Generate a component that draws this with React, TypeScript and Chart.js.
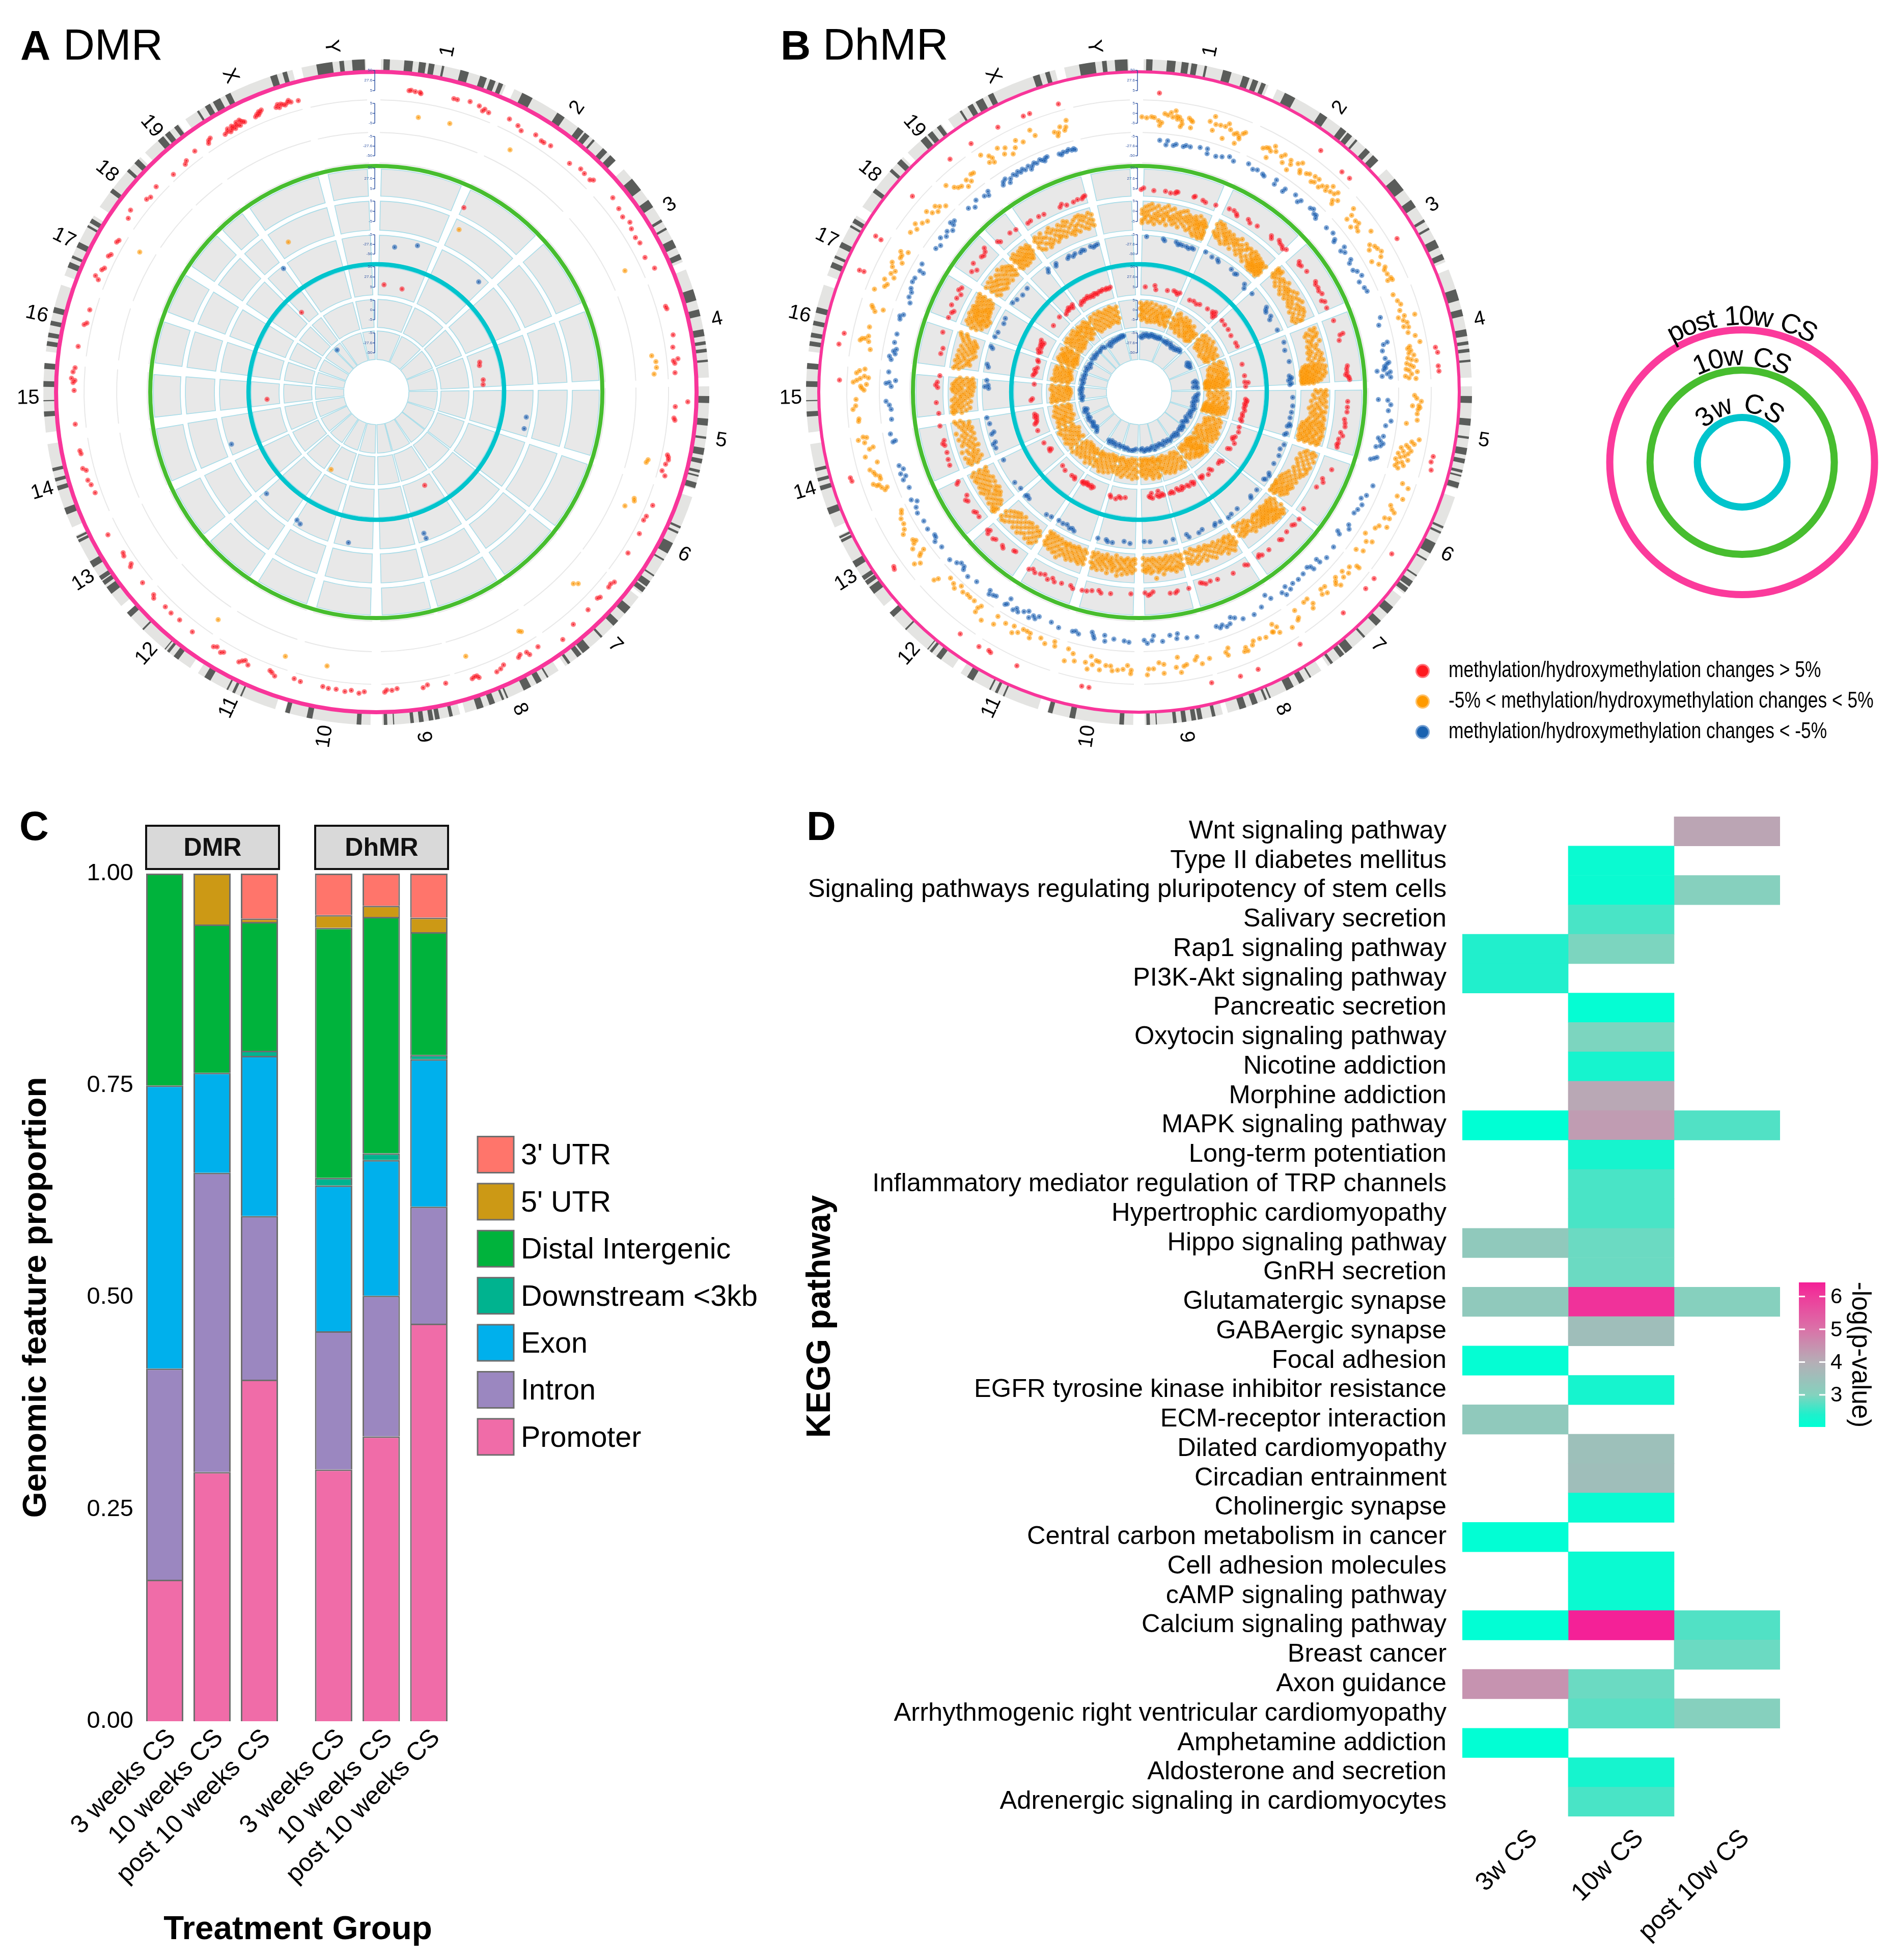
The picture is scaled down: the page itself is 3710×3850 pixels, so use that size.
import React, { useEffect, useRef } from "react";
import { Chart, registerables } from "chart.js";
Chart.register(...registerables);

const FONT = "Liberation Sans";

// ---------- Circos layout: chromosomes ----------
const chromNames = ["1","2","3","4","5","6","7","8","9","10","11","12","13","14","15","16","17","18","19","X","Y"];
const chromStart = [0.8,24.5,48,68.4,89,108.4,128,146.8,165.4,181,197.7,214,230,246,263,277,290.5,303.8,316,325,347];
const chromEnd = [22.9,46,67,87.5,107,127.3,145.4,164.5,179,196,212.4,228.5,244.5,261,275,288.8,302,314.9,323.6,345.4,358.2];
// dark ideogram bands: [centre, width] in degrees of genome position
const ideogramBands = [
[1.8,1.1],[5.6,1.5],[8,1.2],[9.6,1],[11.6,.4],[15.4,1.5],[18.8,1.2],[20.5,1],[22,.8],
[27,2],[33.7,1.5],[37.9,1.2],[39.3,1],[40.8,.4],[43.4,1],[45.3,1.3],
[51.4,2.5],[55.5,1.5],[59,.5],[60.6,.4],[63.5,1.5],[66,1],
[73,2],[76.2,1.2],[79.7,1.2],[81.5,.6],[82.8,.6],[84.6,.4],
[91.3,1.2],[95.2,1.2],[97.9,.4],[100.3,1.2],[102,.8],[103.8,.5],[104.6,.3],[106.3,1],
[114,.4],[115,.4],[118,2],[120.3,.3],[123.5,.3],[125.2,1.1],[126.5,.9],
[131,1.5],[134,1.2],[137.4,.4],[140.9,1.5],[142.4,.9],[144.6,.5],
[149,.3],[150.7,1],[153,1.4],[156.8,.3],[157.6,.4],[159.6,1],[161.8,1.2],
[167,.6],[169.4,.8],[170.5,.8],[172.2,.8],[173.8,.6],[177,.2],[178.4,.6],
[183,.8],[191.6,1],[195.5,.8],
[204,.3],[205.4,.5],[206.6,.3],[210.5,1.2],
[217,1],[218.7,.5],[219.4,.2],[224.5,.3],[228,1],
[233.4,1.4],[235,.8],[236,.8],[238.8,1.2],[243.4,.5],[244.1,.4],
[249,1.2],[253.2,.8],[254.7,.6],[256.5,.6],
[266.2,.9],[268.5,.2],[271.4,1],[274.5,1],
[278.4,.8],[279.9,.8],[282,.8],[284.3,1],
[292.5,1],[294,.5],[296.3,1],[299.9,.4],[301,.8],
[307.3,.8],[311.8,.6],[313.9,1],
[319.6,1.2],[321.1,1],[323,.8],
[327.6,.4],[329.5,1],[331.3,1.4],[333.5,1],[342,1.2],[344,.8],
[351,2.8],[354,.8],[356.9,2.2]
];
// tracks, outermost first: inner and outer radius of the band
const trackInner = [574,510,450,385,318,254,191,127,64];
const trackOuter = [632,567,502,438,375,308,246,182,120];
const sectorPad = [0,0,0,.5,.42,.35,.25,.15,.05];
const axisInner = [592,528,464,399,335,271,206,142,77];
const axisOuter = [632,567,502,440,375,309,246,180,116];
const axisLabels = [["5","27.6","50"],["-5","0","5"],["-50","-27.6","-5"]];

// ---------- Panel A (DMR): [genome angle, % of track] ----------
const dmrT1 = [[6.2,45],[6.6,47],[7.4,44],[8.3,44],[8.5,40],[14.8,46],[15.5,46],[17.9,52],[19.8,48],[21,44],[20.7,36],[21.9,38],[26,47],[28,40],[29,30],[31.8,43],[33.3,36],[33.9,36],[35.3,40],[40.2,32],[42.5,43],[43.6,40],[45.2,38],[45.7,46],
[50.6,55],[52.9,48],[54.6,42],[56.2,52],[57.4,44],[59.2,40],[60.5,44],[63.4,36],[66,50],[73.5,40],[74,42],[79.1,42],[81.4,34],[84,30],[83.7,46],[86.3,32],[84.5,34],
[91.8,74],[92.8,32],[95,30],[95.4,34],[102.6,32],[102.2,27],[103.1,34],[104,28],[105.4,22],[106.2,36],[112.3,30],[114.7,25],[115.6,22],[118.3,30],[122.6,30],
[128.6,50],[129.3,44],[130,46],[132.5,47],[133,42],[135.8,47],[139.7,50],[143,68],[147.6,40],[149.7,48],[150,36],[151.3,32],[151.8,38],[155,38],[155.8,46],[156.7,50],[160.5,38],[161.5,42],[161,38],[160.2,46],
[166.6,32],[170.1,25],[171,32],[176,25],[177,30],[178.4,35],[178,28],[182.3,34],[183.3,40],[184.8,32],[186,38],[187.7,34],[189.2,35],[190.3,32],
[194.7,32],[196,28],[200.4,32],[200.9,28],[199.7,40],[205.2,40],[206,30],[207,44],[206.5,36],[210.4,40],[210.9,46],[212,36],[212.6,42],
[217.5,42],[220.8,38],[222.9,40],[224.5,38],[227.7,38],[227.2,46],[230.8,40],[235,32],[234.6,40],[237,38],[237.6,34],[242,48],
[250.3,30],[252,34],[253,40],[254.9,36],[255.4,46],[258.2,40],[258.8,42],[263.9,44],[270.3,42],[271.8,46],[272.6,52],[273.8,48],[274.6,42],[272.2,40],
[278.7,40],[283.4,26],[283,34],[286,28],[292,34],[292.5,48],[294.5,30],[294,36],[296.9,36],[297.4,30],[300,34],[300.5,30],[305,44],[306.5,54],[310,34],[310.8,28],[313,38],
[317,26],[320,25],[320.6,32],[323,40],[326,34],[326.8,46],[326.3,42],[329.6,30],[330.2,34],[330.5,42],[330.8,28],[331.2,34],[331.4,44],[331.6,38],[331.9,30],[332.2,40],[332.5,48],[332.6,36],[333,32],[333.2,50],[333.4,44],[333.7,40],[334,36],[336.3,36],[336.7,42],[337,38],[337.2,48],[337.4,44],[337.8,50],[340.6,40],[341.2,36],[341,48],[341.6,46],[342,42],[342.4,38],[342.9,44],[343.2,50],[343.6,42],[345,40]];
const dmrT2 = [[8.7,70],[15.3,72],[28.9,66],[64,66],[82.5,70],[83.8,82],[85,82],[86.3,72],[104,78],[104.6,74],[112.4,74],[112.9,78],[114.6,55],[133.5,72],[134.2,60],[148.8,78],[149.2,72],[161.3,74],[190.2,72],[199,76],[214.8,68],[300.6,60]];
const dmrT4 = [[25.4,36]];
const dmrT5 = [[27,75],[329.6,46]];
const dmrT6 = [[7.2,65],[15.7,87],[42.9,81],[323.1,96],[99.5,87],[103.9,88],[161.4,76],[161.2,96],[190.5,91],[211.8,82],[210,88],[227.2,78],[250.2,94]];
const dmrT7 = [[4.1,40],[14,35],[316.8,46],[73.9,40],[75.6,36],[83.5,40],[86,38],[266.2,47],[152.6,31]];
const dmrT8 = [[210.3,92]];
const dmrT9 = [[317,89]];

// ---------- Panel B (DhMR): [genome angle, % of track] ----------
const dhT1 = [[3.9,33],[36.9,41],[42.6,31],[44.5,33],[59.2,33],[81.4,31],[82.4,36],[85,33],[86,34],[102.4,36],[103.5,33],[105,40],[122.7,33],[128.5,33],[131,33],[137.3,36],[147.5,31],[156.8,40],[160.4,40],[166,33],[189.6,33],[191,33],[204,33],[209.6,33],[210.1,30],[212.1,36],[216.4,36],[234,40],[234.5,36],[252.7,34],[253.4,36],[272.3,31],[279.1,45],[281.3,34],[293.6,49],[293.7,33],[300.7,53],[300.6,31],[310.9,31],[321,33],[326,33],[332,34],[337.3,31],[338.6,31],[344.4,31]];
const dhT2 = [[.6,61],[1.6,58],[2.6,62],[3.2,60],[4.4,34],[4.1,50],[4.8,44],[5.3,76],[6,72],[6.6,82],[7,67],[7.5,90],[7.8,72],[8,62],[8.4,70],[8.9,60],[9.1,48],[8.8,38],[10.4,72],[10.9,66],[11,40],[11.2,62],
[14.7,77],[15.5,98],[15.6,49],[16,72],[17,74],[18.6,88],[18,75],[19.2,70],[18.1,32],[20.2,60],[20.7,66],[21.3,58],[22.3,79],[21.5,50],[20.9,30],[21.9,72],
[26.9,55],[27.5,62],[28,65],[28.4,31],[28.6,58],[29,81],[29.6,66],[31.1,61],[31.6,72],[33.2,67],[33.6,54],[31.9,44],[33.5,31],[34.8,71],[35.5,82],[35.9,56],[36.2,48],[37.4,60],[38,66],[39.2,71],[39.8,54],[40.2,72],[39.2,48],[41.1,50],[41.6,62],[42.4,71],[43.3,86],[42.7,58],[44.5,70],[44.9,82],[43.6,66],[45.2,50],[46,62],[45.6,40],
[49.4,84],[50.2,64],[50.2,43],[52,36],[51.6,62],[52.4,66],[52.8,52],[53.6,47],[55.2,84],[57.4,54],[58.2,66],[58.9,70],[59.8,77],[58.3,43],[60.7,66],[60.7,30],[61.9,47],[63,62],[63.5,55],[65.5,64],[66,66],[65.8,50],[64.5,58],
[69,48],[70.5,55],[71.4,62],[72.6,52],[74.2,98],[73.9,62],[74,40],[74.8,54],[75.4,65],[76.1,50],[76.4,66],[77.5,60],[78.4,82],[79.8,94],[80.4,56],[80.8,48],[81.3,58],[81.8,50],[82.3,66],[82.8,44],[83.2,56],[83.5,72],[83.9,38],[84.3,50],[84.7,60],[85.1,34],[85.4,44],[85.8,72],[86.2,52],[86.6,30],[87,42],[87.2,66],
[90.7,60],[91.3,68],[91.9,84],[92.8,76],[92.9,54],[93.2,80],[93.6,74],[94.5,72],[95.8,74],[96.7,38],[99.7,90],[100.4,66],[100.8,76],[101.3,50],[101.7,60],[102,34],[102.3,70],[102.7,44],[103,62],[103.3,28],[103.6,52],[104,38],[104.3,66],[104.6,24],[105,48],[105.3,34],[105.6,56],[106,28],[106.4,40],
[109.2,72],[109.8,96],[112,70],[112.2,92],[114.3,62],[115,72],[115.4,84],[117.2,62],[116.9,78],[119.2,58],[118.7,84],[120,50],[122,30],[122.8,66],[123.4,48],[126,35],[125.4,58],
[128.7,72],[129.8,54],[128.7,82],[130.9,66],[131.5,45],[132.2,62],[133.4,42],[133.8,74],[134,52],[134.4,60],[136.4,38],[136.9,60],[137.9,52],[137.4,36],[140.6,55],[141.2,68],[141,30],[142,32],[144.6,36],[144.8,64],[145.2,70],[147,80],
[149.7,50],[150.3,34],[150.8,60],[149.7,72],[151,58],[152.7,64],[154,58],[155.4,56],[155.9,68],[157.4,66],[157.2,80],[157.9,78],[160.9,46],[161.3,70],[161.6,58],
[165.2,62],[166.9,74],[167.7,46],[168.2,56],[170.1,66],[170.7,70],[171.8,36],[172.3,70],[171.4,90],[174.8,55],[174.9,86],[175.8,48],[177,68],[178,68],[178.3,88],
[181.6,72],[181.7,84],[182.4,56],[183.3,70],[184.4,74],[185.9,62],[185.5,78],[186.9,62],[188.1,80],[189,50],[188.4,52],[190.2,38],[189.7,66],[190.6,84],[191.2,62],
[193.5,66],[194.1,42],[195.3,30],[195.5,74],[198.3,35],[198.6,20],[200.5,38],[201.7,25],[204.2,24],[204,40],[205,22],[205.9,22],[208,26],[206.7,40],[207.8,50],[209.9,32],[212.1,25],[212,56],
[216.3,28],[214.6,68],[216.7,40],[216.6,56],[218.2,28],[219.4,28],[220.2,26],[221.3,30],[223.2,40],[222.4,18],[224,30],[225.3,24],[227,56],[227.4,70],
[231.9,68],[232.5,86],[233.5,46],[233.8,30],[233.2,54],[236.3,34],[235.2,60],[236,46],[236.8,42],[239.6,48],[238.8,60],[240.7,40],[241.9,40],[242.9,30],[243.5,25],
[248.9,48],[249.6,56],[250.3,70],[250.8,80],[249.3,38],[250.3,62],[251.4,50],[252.5,62],[253.1,66],[252,50],[253.8,76],[255,44],[256.6,80],[258.3,46],[258,60],[259.5,72],[260.7,74],[260.5,62],[260.2,92],
[264,82],[264.5,80],[266.5,98],[267.2,88],[268.5,86],[272,96],[271.2,70],[272.8,72],[273.3,58],[273.9,86],[270.8,66],[271.6,50],[272.4,84],[273,44],[274.4,76],[274.8,58],[270.4,58],
[281.7,62],[281,82],[280.6,88],[281.1,72],[280.6,58],[279,48],[283.6,66],[287.8,36],[287,62],[287.6,72],[288,78],
[291.3,89],[292.6,60],[293.2,54],[294,70],[295,42],[295.6,58],[296.4,48],[297,64],[297.8,72],[298.6,40],[299.4,54],[300,54],[300.6,64],[301.2,40],
[305,72],[306.3,60],[307,76],[308,58],[309,48],[310.4,72],[311,54],[312,42],[312.4,62],[313,50],[314,36],
[317,86],[318,62],[318.6,52],[319.3,48],[320.4,32],[320.9,54],[321.6,40],[322.4,60],[323,58],
[326.3,94],[327,56],[327.6,76],[328,64],[327.9,48],[329.9,84],[331.3,72],[330.6,54],[332.2,40],[333.9,78],[333.2,56],[335.2,62],[337.4,90],[338,66],[342.5,38],[342,54],[342.8,48],[343.4,66],[344.2,50],[344.6,60],[345,82]];
const dhT3 = [[4.7,96],[6.2,81],[6.5,97],[7.9,82],[8.5,88],[10.2,84],[10.8,90],[11.8,88],[14,94],[15.7,96],[15.9,78],[18,78],[19.4,84],[21,94],[22.2,84],
[25.6,98],[27,86],[28,92],[29.5,88],[30,84],[32.9,96],[33,78],[35.7,86],[35.5,73],[38.4,92],[39.7,76],[40.2,88],[42.9,90],[43.6,96],[44.4,84],[45,86],[45.4,76],
[48.7,82],[50.6,88],[52,78],[52.3,70],[54.7,90],[55.8,80],[55,70],[57.9,84],[58.5,72],[60.3,70],[61,82],[62.3,90],[63.4,70],[65.1,78],[66.1,82],
[72.8,94],[74.4,80],[78.6,96],[79,80],[80.4,72],[82.2,78],[83.2,90],[83.5,82],[84,72],[84.4,76],[85.4,92],[85,42],[86.3,60],[86.6,92],[85.8,80],[84.8,68],
[91.8,44],[91.9,80],[92.9,92],[94.3,84],[96.6,98],[97.8,80],[100.3,78],[100.9,60],[101.5,70],[102,82],[102.6,74],[103,58],[106.2,50],[105.4,72],[105.8,62],
[111.9,92],[114.5,84],[115.6,70],[116.9,84],[118.3,78],[119.4,72],[122.4,78],[123.2,88],[125,56],[125.4,68],[128.6,80],
[131.5,86],[133.3,78],[133.4,62],[136.3,58],[135.4,80],[135.6,66],[138,66],[139.7,70],[141.3,68],[142.5,80],[144.6,72],[144,88],[143.2,60],
[147.5,66],[148.3,44],[150.4,76],[152.7,88],[155.4,84],[157.1,68],[158,60],[158.6,82],[160.4,76],[161.8,74],[159.5,88],[161,84],
[166.7,92],[169,88],[171,66],[171.3,84],[172.8,68],[174.6,88],[177,82],[178.1,92],[176.6,64],[178.8,80],
[182.3,88],[183.4,84],[185.8,80],[187.8,92],[188,70],[190.3,88],[190.6,78],[191,66],[194,84],[194.8,76],[195.5,80],[198.8,82],[200.8,72],
[203.9,70],[204.6,84],[205.2,76],[206,90],[206.6,68],[207.6,78],[208.8,90],[209.4,80],[210,92],[211.8,84],[211.7,60],[212.2,90],
[214.9,82],[215.6,86],[216.8,78],[216.5,92],[220.5,84],[222.8,92],[224.6,84],[225,74],[226.8,84],[228.4,96],[226,72],
[231.8,88],[233.7,96],[234.4,84],[235,82],[237,92],[239,88],[241.3,94],[242.6,88],[243.8,74],[244.6,92],
[247.4,80],[249.5,90],[250.2,76],[251,92],[251.9,76],[252.9,88],[258.7,78],[258.5,88],[260.4,92],
[263.7,80],[266,78],[267,84],[267.9,96],[271.3,76],[272.2,84],[272.7,60],[272,96],[274.6,88],
[277.5,84],[278.2,92],[278.9,72],[279.5,80],[280,70],[281.5,82],[283.5,80],[287,84],[288.2,76],[287.7,88],
[291.3,68],[292.5,80],[293.7,78],[294.5,86],[296,92],[297,90],[298.9,70],[299,86],[300.6,92],
[305.3,80],[306.5,72],[307.9,90],[309,76],[310,86],[311,72],[312.1,84],[312.9,92],[312,98],
[317.2,88],[318.5,74],[319.7,92],[321.8,84],[322.7,76],[323.1,90],
[326.8,76],[327.2,86],[327.9,92],[328.5,70],[329,82],[330,90],[330.6,82],[331.2,92],[331.8,84],[332.4,92],[333,84],[333.9,92],[334.3,76],[334.8,86],[335.4,94],[336,88],[336.9,96],[337.4,90],[337.9,84],[338.2,94],[338.7,96],[341.5,90],[342,84],[342.5,92],[343.3,90],[343.8,96],[344.5,90],[345,94],[345.3,88]];
const dhT4 = [[.6,30],[1.3,36],[4.2,28],[7.5,30],[9,26],[10.3,28],[10.6,34],[11,34],[15.7,30],[16,34],[18.4,28],[19.3,24],[22.3,28],
[26.2,36],[27.6,38],[28.6,32],[29,26],[32.3,36],[33.2,28],[35.4,34],[40.2,38],[40.7,30],[42.7,44],[43.4,38],[44.3,36],[45,30],[45.9,38],
[50.8,44],[51.4,36],[52.1,40],[54.2,44],[57.9,50],[58.6,44],[59.7,46],[60.6,42],[61.7,48],[64,44],[63.4,34],[65.8,40],
[69.8,46],[74.1,52],[73.9,64],[75.5,44],[82.8,56],[83.6,52],[84.5,52],[85.2,46],[86,58],[86.6,60],[85.6,54],
[92.6,52],[94.2,52],[95.5,52],[97.6,46],[98.6,50],[99.6,52],[101.4,40],[102.2,50],[103.3,38],[104.4,40],[105.6,40],[104.9,36],
[112,48],[115.3,30],[116.2,38],[118.2,24],[125.4,26],
[128.5,36],[130.5,36],[131.1,30],[133.5,32],[136,40],[136.5,34],[140.6,36],[143,36],[143.7,28],[144.2,34],
[147.9,36],[148.6,30],[152.6,36],[157.3,32],[159.4,28],[160.8,32],[161.6,26],[162.2,22],
[165.8,30],[169.1,30],[169.7,36],[171.2,34],[176,22],[177.4,34],[178.3,24],[176.8,30],
[182.3,28],[188,34],[190.7,38],[191.4,30],[193.3,36],[194.7,42],[196,44],
[198.6,48],[199.4,40],[202,44],[204,50],[204.8,40],[207.2,40],[206,52],[208.4,46],[209.9,52],[211.8,52],[210.8,44],
[217.6,26],[218.2,28],[221,46],[221.6,40],[224.1,40],[224.8,46],[226.8,46],[227,32],[227.6,38],
[232,30],[233.4,28],[234,34],[237.4,30],[238,36],[239,22],[243.6,26],[243.1,34],
[248.8,30],[250.5,28],[252.5,24],[254.6,24],[255.2,30],[256,22],[260.3,26],
[263.9,24],[271.3,24],[272.8,26],[274.7,18],[272,32],[267,30],
[281,26],[282.6,22],[287,38],
[291.4,36],[293,32],[293.6,26],[295,44],[297.3,38],[298.7,30],[300.5,40],[299.6,46],
[305.8,42],[307,30],[307.9,56],[310.7,48],[311.4,44],[312.4,50],[313,62],
[316.8,44],[317.4,36],[321,38],[322.9,34],
[326.7,28],[327.7,30],[330.3,28],[331.9,26],[336.9,24],[337.6,32],[338.9,22],[341,24],[342.3,28],[343.6,26],[344.1,32],[344.6,34]];
const dhT6 = [[2.8,100],[9,98],[9.6,92],[13.9,96],[14.8,88],[15.4,92],[16.5,90],[18,90],[19,86],[20,92],[20.8,90],
[25.4,98],[28.3,92],[30.6,94],[31.3,88],[36.9,92],[38.9,86],[39.6,90],[44.3,82],[45.3,70],[48.9,78],[56.3,90],[57,82],[57.8,78],[60,86],[61,76],[65.8,84],
[71,90],[74,84],[78.5,90],[83.9,82],[84.6,90],[85,86],[85.6,78],[86.7,88],[87.2,82],
[92,92],[95.2,94],[97.6,92],[99.7,90],[102,92],[102.6,96],[103,86],[105.7,90],[106.3,84],
[110,94],[112,86],[114.5,92],[118,88],[122,90],[122.8,96],[124.6,92],[125,86],
[129.8,90],[133,88],[133.5,94],[140,88],[143,90],[144.6,94],[148,90],[150,86],[150.5,92],[155.4,84],[157,90],[161,92],[161.6,80],
[167,84],[170,88],[175.8,80],[178,78],[183.4,86],[185.7,80],[190,90],[191.8,90],[192.5,84],[195.7,86],
[205,92],[206,86],[207,90],[208.4,82],[210,86],[211.9,84],[215,88],[217,92],[225.8,90],[227,86],[227.5,92],
[230.8,88],[233.9,92],[243.3,84],[248.6,92],[250.2,96],[250.8,86],[254,90],[254.6,80],[258,88],[260.4,94],
[274.4,88],[272,94],[272.6,82],[271.4,80],[279.4,88],[280.4,94],[287.2,96],[286.6,88],
[291,94],[293,90],[296.9,84],[298.9,88],[305.3,96],[307.2,90],[309.9,84],[312.9,88],
[323,80],[323.6,90],[326.7,82],[327.2,90],[332,84],[332.8,90],[334.2,82],[335.2,88],[337.3,84],[338.2,90],[339,86],[341.6,92],[342.6,86],[343.4,90],[344.3,92]];
const dhT7 = [[3.4,32],[8.5,40],[9.3,26],[15.6,32],[19,38],[21.3,30],[22.4,38],[20.4,36],
[28.8,30],[31,34],[33,30],[34.7,36],[39.4,40],[42.4,44],[43.2,38],[44.8,40],[44.4,30],[43.8,50],
[49.2,46],[51.8,44],[54.9,44],[58.4,40],[63,42],[65,42],[74.9,36],[81.2,36],[84.6,34],[85,46],[87,36],
[93.9,36],[94.6,42],[95.4,40],[96.4,34],[97.2,38],[98.5,34],[100,38],[101.9,32],[103.2,34],[105,30],[105.8,36],
[109.4,34],[112,38],[115,34],[116,26],[116.8,30],[118.4,42],[122.6,30],[122,38],
[129.8,42],[130.6,34],[132,36],[137.1,36],[137.8,28],[140,40],[143.8,36],[143,30],[144.4,30],
[148.8,32],[150,28],[149.4,38],[152,36],[152.8,30],[155,32],[155.8,26],[156.4,36],[158,34],[158.8,26],[161.2,36],[162,30],[163,34],
[166.6,34],[167.4,28],[168.2,34],[169.2,36],[169.2,16],[170.2,30],[172.7,38],[173.1,20],[173.9,34],[174.5,30],
[187.4,36],[189.8,40],[190.8,36],[192.3,46],[195,44],[195.6,38],
[205.6,32],[206.4,38],[207,30],[208.2,34],[209,34],[209.6,28],[210.4,32],[211,38],[211.8,32],[212.2,36],
[216.5,42],[217,36],[218.8,38],[223.3,40],[226,34],
[236.5,36],[237,28],[237.6,34],[241.8,40],[249.1,42],[252.8,44],[253.4,38],[254.2,34],[255.6,32],[256.4,38],[257,30],[258,36],
[265.6,42],[266.4,36],[274.3,30],[280,34],[279,38],[281,30],[282.2,36],[283.4,28],[287.5,34],[286.8,30],
[291.5,40],[292.2,34],[293,46],[294.4,38],[295.2,44],[296,38],[296.6,46],[297.2,36],[298,50],
[307.9,42],[313.4,46],[317,36],[318.5,42],[319.4,40],[320,48],[321,44],[322,38],[322.7,48],
[326.5,30],[327.6,38],[328.6,34],[329.6,40],[330.8,38],[331.6,44],[332.6,36],[333.6,40],[334.5,34],[335.4,42],[336.4,40],[337,36],[338.4,42],[339.4,40],[340.4,44],[341.9,40],[342.6,44],[343.6,40],[344.7,44]];
const dhT9 = [[1.5,82],[3.1,78],[4.2,90],[6,84],[7.2,92],[8.4,88],[10,84],[11.2,90],[12.2,94],[13.6,88],[15,92],[16.4,86],[18,90],[19.4,86],[20.6,92],[22,88],
[25.6,86],[27.4,84],[29,90],[30.2,82],[32.8,90],[34.2,84],[35.8,78],[37.2,86],[39.4,80],[40.8,88],[42,84],[43.5,92],[45.3,88],
[58.7,84],[60,90],[61,78],[62,88],[62.8,82],[64.4,86],[79,88],[80,80],[81,92],[84,88],[85,78],[85.8,92],
[92,94],[93.6,86],[95,90],[96.4,80],[98.3,92],[99.5,84],[101,78],[103,86],[105,80],[106.4,90],[108.8,86],[110.4,78],[112.2,84],[114,76],[115.6,86],
[118,72],[120,78],[121.4,84],[123,76],[124.6,70],[127,80],[128.6,84],[130,76],[131.6,86],[133.2,78],[136.5,82],[138,90],[139.4,78],[141,86],[142.6,80],[145,84],
[147.6,90],[149.4,82],[151.6,88],[153.6,80],[155.4,92],[157.4,86],[159,82],[161,90],[162.8,84],[164.6,96],
[166.8,84],[168.4,90],[170,94],[171.7,88],[173.4,92],[175,96],[176.8,86],[178.4,90],
[183,88],[185,92],[187,94],[190,94],[192,88],[194,92],[196,86],[198.8,90],[200.6,84],[203.4,92],[205.2,84],[207,90],[208.8,82],[210.4,92],[212,86],
[226.9,90],[228.4,84],[230.6,78],[232,84],[233.5,88],[235,82],[236.6,78],[238,84],[241,88],[242.4,80],[243.8,86],[247,82],[250,90],[251,84],[252,78],[253,86],
[262,88],[264,90],[265.6,84],[268,92],[270,88],[272,94],[273.4,86],[275,90],
[278,88],[280,84],[282,92],[284,84],[286.2,90],[288,84],[291,88],[293.7,84],[295,90],[297,78],[299,86],[301,82],
[305,88],[307.6,82],[309,90],[311,84],[313,88],[316,84],[318,88],[320.8,90],[322.6,84],
[327,84],[328.6,76],[330,88],[332,82],[333.6,90],[335.4,84],[337,90],[338.6,86],[340,92],[341.4,88],[342.6,94],[343.8,90],[344.8,92]];
// dense tracks: one row per genome angle followed by the values seen there
const dhT5rows = [
[1,62,40,75,30],[2,45,68,85,54],[3,33,58,90,72],[4,50,78,38,96],[5,62,28,84,47],[6,70,42,92,56],[7,35,60,80],[8,52,88,44,68],[9,74,30,62,96],[10,48,84,58],[11,66,36,90,52],[12,42,76,60],[13,55,30,82,70],[14,88,46,64],[15,38,72,58,92],[16,28,54,80,66],[17,74,44,34,60],[18,24,52,82,68],[18.7,40,72,16,58],[19.4,30,62,88,48],[20,20,44,70,56],[20.7,34,14,64,80],[21.4,26,48,72,58],[22,18,40,62,30],
[25,56,84],[25.7,72,96,48],[26.4,60,88,42],[27,50,76,94],[27.8,38,66,84],[28.6,58,30,72],[29.4,46,80,60],[30,52,70,36],[31,62,44,78],[32,54,30,68],[33,72,48,60],[34,36,58,82],[35,26,64,46],[36,52,76,38],[37,30,60,68],[38,42,20,72],[39,56,34,66],[39.8,28,48,74],[40.5,16,44,62,30],[41,52,24,70,38],[41.6,12,36,58,28],[42.2,46,20,66,32],[42.8,14,54,28,40],[43.4,38,62,22,50],[44,18,44,30,58],[44.6,28,50,12,38],[45.3,22,60,34],
[48.5,78,88,62],[49.2,70,84,54],[50,60,80,90],[51,48,68],[52,62,76,40],[53,52,74],[54,44,64,84],[55,58,70,36],[56,48,72,62],[57,40,80,58],[58,66,88,50],[59,44,60,76],[60,54,82,38],[61,68,44,88],[62,56,32,72],[63,42,66,80],[64,34,58,78],[65,46,28,70],[66,36,60,52],
[70,72,88],[70.8,56,80],[71.6,64,90,48],[72.4,74,84],[73.2,52,68],[74,60,92],[75,62,46,78],[76,50,72],[77,56,80,42],[78,70,88,48],[79,62,40,82],[80,50,76,90],[81,26,58,40,70],[81.5,34,16,82,54],[82,22,46,66,94],[82.5,12,30,52,76],[83,8,26,40,62,88],[83.5,18,34,56,72],[84,6,24,44,64,92],[84.5,14,30,50,78],[85,8,22,38,58,84],[85.5,12,28,46,68],[86,6,20,36,52,74],[86.5,10,26,42,62],[87,8,18,32,48],
[89.5,72,90,54],[90.2,62,84],[91,78,46,92],[92,68,52,84],[93,40,72,90],[93.8,58,80],[94.6,66,44,92],[95.4,72,34,56],[96.2,80,50,90],[97,60,76,42],[97.8,86,52,70],[98.6,40,64,90],[99.4,58,78,34],[100,30,50,88,70],[100.6,18,42,62,84],[101.2,26,48,74,94],[101.8,14,36,56,82],[102.4,22,44,66,90],[103,12,34,52,76],[103.6,28,48,70,94],[104.2,16,38,60,86],[104.8,24,44,66,90],[105.4,14,34,54,78],[106,28,48,70,88],[106.6,20,40,62,82],
[109.4,82,60],[110,74,92,52],[111,62,84,40],[112,70,94,48],[113,58,80,36],[114,66,90,44],[115,50,74,84],[116,38,60,86],[117,68,46,80],[118,30,54,72],[119,42,62,24],[120,52,34,70,16],[121,26,44,60,12],[122,34,18,52,68],[122.8,8,28,48,62],[123.6,18,38,56,10],[124.4,12,30,46,64],[125.2,24,8,40,56],[126,14,30,48],[126.8,10,26],
[128.5,40,70],[129.2,52,86,28],[130,62,36,80,96],[130.6,44,70,24,90],[131.2,54,30,84,66],[131.8,40,76,94,58],[132.4,28,62,48,84],[133,52,74,36,90],[133.6,22,60,42,82],[134.2,68,30,50,88],[134.8,38,72,56],[135.4,60,26,80,46],[136,34,68,52],[136.6,58,30,76],[137.2,44,66,24],[138,52,30,70],[139,62,36,46],[140,28,56,72],[141,42,18,60,34],[142,54,22,40],[143,34,58,14,46],[144,20,44,60],[145,30,12,50],
[147.2,44,62],[148,52,30,70],[148.8,62,36,84,48],[149.6,26,56,76],[150.4,44,68,30],[151,60,82,38],[152,48,28,66],[153,70,36,54],[154,42,62,24],[155,54,76,32],[156,28,46,68],[157,60,38,22],[158,50,72,30],[159,34,58,20],[160,46,66,28],[161,24,52,72],[162,38,16,60],[163,28,50,64],[164,44,22,58],
[165.8,40,62,26],[166.6,54,30,72],[167.4,22,46,64],[168.2,60,34,78],[169,44,24,68],[169.8,56,32,70],[170.6,40,20,62],[171.4,66,48,28],[172.2,34,56,80],[173,24,46,62],[173.8,58,36,70],[174.6,28,50,92],[175.4,40,66,22],[176.2,54,30,72],[177,46,24,60],[177.8,32,56,68],[178.6,20,44,62],
[181.4,38,60,24],[182.2,50,26,70],[183,34,62,44],[183.8,22,52,74],[184.6,40,64,28],[185.4,56,32,78],[186.2,24,46,60],[187,68,38,84],[187.8,30,54,16],[188.6,44,70,60],[189.4,26,50,36],[190.2,64,40,80],[191,30,56,18],[191.8,48,72,34],[192.6,24,60,42],[193.4,52,34,76],[194.2,20,44,66],[195,58,30,74],[195.8,38,22,56],
[198,30,52,70],[198.8,22,44,62],[199.6,34,56,74],[200.4,26,48,68],[201.2,38,60,20],[202,50,28,72],[202.8,42,64,24],[203.6,30,54,76],[204.4,22,46,66],[205.2,36,60,28],[206,50,24,72],[206.8,32,56,84],[207.6,44,20,68],[208.4,28,52,74],[209.2,38,18,62],[210,48,26,70],[210.8,34,16,58],[211.6,24,44,64],[212.2,16,36,54],
[214.6,48,72],[215.4,58,36,84],[216.2,42,68,90],[217,30,54,78],[218,62,40,86],[219,48,74,30],[220,56,34,80],[221,42,66,88],[222,28,52,74],[223,60,38,84],[224,46,70,30],[225,54,78,36],[226,42,64,88],[227,50,72,92],[228,62,84],
[230.4,78,92],[231,60,84,96],[231.8,70,50,88],[232.6,58,80],[233.4,42,66,90],[234.2,74,52,34],[235,60,84,42],[235.8,46,72,28],[236.6,64,84,36],[237.4,50,72,92],[238.2,30,58,78],[239,66,44,86],[239.8,52,74,28],[240.6,38,60,84],[241.4,70,48,88],[242.2,56,78,36],[243,44,66,90],[243.8,58,80,34],
[246.6,52,74],[247.4,42,64,82],[248.2,30,56,76],[249,60,44,86],[250,36,68,52],[251,72,48,90],[252,28,58,40],[253,64,82,46],[254,34,54,74],[255,66,44,88],[256,56,74,32],[257,40,62,92],[258,68,50,34],[259,44,76,60],[260,60,84,40],[260.7,70,90],
[263.4,60,88],[264,78,44,92],[264.7,62,30,84],[265.4,52,72,92],[266.1,38,66,84],[266.8,56,26,76],[267.5,46,68,90],[268.2,34,58,80],[268.9,22,62,44],[269.6,52,76,30],[270.3,40,18,66,86],[271,56,28,74,90],[271.7,34,14,62,82],[272.4,48,24,70,88],[273.1,36,60,16,80],[273.8,52,28,74],[274.5,40,64,20],
[277.5,72,90],[278.2,60,84],[279,50,76,36],[279.8,68,88,44],[280.6,56,40,78],[281.4,30,62,84],[282.2,48,70,22],[283,58,36,82],[283.8,44,68,28],[284.6,52,78,34],[285.4,40,62,24],[286.2,50,74,30],[287,58,38,80],[287.8,88,66],[288.5,92,70],
[291,46,64],[291.8,30,56,78],[292.6,68,42,88],[293.2,20,52,74,34],[293.8,44,62,16,84],[294.4,28,56,72,40],[295,66,36,90,12],[295.6,22,50,76,60],[296.2,42,68,30,86],[296.8,54,24,78,64],[297.4,34,70,48,88],[298,58,26,80,42],[298.6,46,72,30],[299.2,62,38,84],[299.8,52,74,28],[300.4,42,66,88],[301,56,34,78],[301.6,70,48,90],
[304.4,38,60,84],[305.2,52,72,28],[306,44,66,88],[306.8,58,36,78],[307.6,30,54,70,90],[308.4,46,68,24],[309.2,60,36,82],[310,50,74,32],[310.8,42,64,90],[311.6,56,28,78],[312.4,66,44,84],[313.2,36,58,76],[314,52,70,30],[314.6,44,62],
[316.4,40,66,82],[317,54,30,72],[317.6,62,44,88],[318.2,34,56,78],[318.8,50,70,28],[319.4,60,42,84],[320,30,54,74],[320.6,64,46,88],[321.2,38,58,80],[321.8,52,72,34],[322.4,44,66,84],[323,56,74],
[325.4,52,78],[326,40,66,88],[327,62,34,80],[328,50,72,90],[329,44,68,30],[330,56,82,38],[331,46,74,92],[332,60,34,80],[333,52,72,42],[334,66,86,46],[335,38,58,78],[336,50,74,90],[337,62,40,84],[338,46,70,32],[339,58,80,44],[340,36,62,88],[341,52,74,90],[342,42,68,84],[343,56,78,36],[344,48,66,88],[345,60,80,42]
];
const dhT8rows = [
[1,70,44,90],[2,52,30,78,64],[3.5,84,40,62],[5,34,72,52,92],[6.5,60,24,82],[8,46,68,92,34],[9.5,74,54,26],[11,40,62,88],[12.5,28,70,50],[14,58,84,36,46],[15.5,66,32,78],[17,48,24,60,88],[18.5,70,40,54],[20,30,80,58],[21.5,62,42,74,24],
[25,40,62],[26.5,54,28,80],[28,66,40,88],[29.5,30,58,76,46],[31,48,70,20],[32.5,64,36,84],[34,26,54,72],[35.5,44,62,18,82],[37,34,58,70],[38.5,24,48,64,40],[40,56,30,76],[41.5,18,44,60],[43,36,22,52],[44.5,28,46,60],
[48.5,74,52],[50,60,82,38],[51.5,46,70,26],[53,62,36,84],[54.5,28,52,72],[56,42,64,90],[57.5,30,58,78],[59,50,70,22],[60.5,38,62,84],[62,28,54,74],[63.5,46,66,36],[65,58,30,78],[66.2,40,62],
[69.5,56,78],[71,40,66,86],[72.5,52,30,74],[74,62,44,84],[75.5,28,54,72,92],[77,40,64,24,80],[78.5,34,56,76,92],[80,22,48,66,84],[81,14,36,58,78],[82,24,44,70,12],[83,8,30,52,92,74],[84,18,40,60,84],[85,10,26,46,68,88],[86,14,34,54,76],[87,8,22,42,64],
[89.5,20,48,70],[91,32,60,84],[92.5,18,44,72],[94,36,56,88],[95.5,24,50,74],[97,40,64,84],[98.5,16,38,58,80],[100,10,28,48,70,90],[101,16,36,58,78],[102,8,26,44,66,86],[103,14,34,54,74],[104,8,24,42,62,84],[105,12,30,50,72],[106,6,22,40,60],
[109,72,50],[110.5,58,36,82],[112,44,70,24],[113.5,62,34,84],[115,50,72,28],[116.5,38,60,80],[118,26,52,70,90],[119.5,14,44,62,82],[121,28,52,72,92],[122.5,12,36,60,80],[124,20,44,66,86],[125.5,30,54,74],[126.8,16,40,62],
[128.5,52,78,34],[130,62,28,84],[131,40,70,18,92],[132,52,24,76,62],[133,14,44,66,86],[134,30,56,80,20],[135,10,40,62,86],[136,24,52,76,44],[137,34,66,16,84],[138,46,72,28],[139.5,56,22,76],[141,36,62,14],[142.5,50,26,70],[144,32,58,18],
[147.2,48,72],[148.5,30,60,84],[150,46,20,74],[151.5,56,32,82],[153,40,66,16],[154.5,26,52,76],[156,62,36,84],[157.5,46,22,70],[159,30,56,80],[160.5,42,68,14],[162,54,28,74],[163.5,36,60,18],[164.5,48,24],
[165.8,52,22,78],[167,38,66,84],[168.2,28,54,12],[169.4,44,72,24],[170.6,60,16,84],[171.8,34,50,72],[173,22,58,14],[174.2,44,68,30],[175.4,12,52,80],[176.6,36,64,18],[177.8,26,48,70],[178.8,58,12,36],
[181.5,30,56,78],[183,14,44,68],[184.5,52,24,82],[186,36,66,12],[187.5,48,76,26],[189,18,58,38],[190.5,70,30,46],[192,22,54,80],[193.5,40,64,14],[195,28,50,74],[196,60,18],
[198,48,70,26],[199.5,34,60,16],[201,52,78,24],[202.5,40,66,14],[204,30,56,84],[205.5,46,72,20],[207,62,34,88],[208.5,24,52,76],[210,42,66,30],[211.5,56,22,80],[212.4,34,64],
[214.5,56,80,34],[216,42,70,24],[217.5,62,88,36],[219,50,74,28],[220.5,40,68,22],[222,58,82,30],[223.5,46,72,20],[225,60,36,84],[226.5,28,54,76],[228,66,42,90],
[230.5,60,84],[232,44,72,24],[233.5,58,82,34],[235,40,66,90],[236.5,52,28,76],[238,38,62,84],[239.5,20,48,74],[241,56,32,86],[242.5,44,68,92],[244,60,34,80],
[246.4,40,62,84],[248,52,28,74],[249.5,34,58,80],[251,44,18,70,60],[252.5,26,50,78],[254,38,62,86],[255.5,22,46,72],[257,56,30,80],[258.5,40,66,20],[260,50,28,74],
[263.4,66,40,84],[264.5,52,24,72],[265.8,36,62,84],[267,46,18,74],[268.2,28,56,80],[269.4,40,66,14],[270.6,52,26,78],[271.8,34,60,16,86],[273,44,22,70],[274.2,56,30,82],
[277.4,48,72,26],[278.6,60,34,84],[279.8,22,50,74],[281,40,64,16],[282.2,54,30,78],[283.4,66,42,20],[284.6,28,56,80],[285.8,44,70,32],[287,54,24,78],[288.3,36,62],
[290.8,42,68,20],[292,54,30,78],[293.2,24,62,46,84],[294.4,36,70,14,54],[295.6,50,26,80,66],[296.8,34,60,18,74],[298,46,70,28],[299.2,58,22,84],[300.4,38,66,50],[301.6,26,54,74],
[304.2,36,64,86],[305.4,52,24,76],[306.6,40,68,90],[307.8,58,30,80],[309,46,72,22],[310.2,60,36,88],[311.4,28,54,76],[312.6,44,70,92],[313.8,32,60,80],[314.8,50,74],
[316.4,44,70,88],[317.6,30,58,76],[318.8,50,24,84],[320,62,38,74],[321.2,46,68,90],[322.4,34,58,82],[323.4,50,72],
[325.5,48,78],[327,36,62,88],[328.5,52,74,26],[330,42,66,92],[331.5,58,30,82],[333,46,70,92],[334.5,36,62,84],[336,52,76,28],[337.5,42,68,88],[339,58,34,80],[340.5,46,72,92],[342,36,60,84],[343.5,54,76,30],[345,44,66,86]
];

// ---------- Panel C ----------
const featureNames = ["Promoter","Intron","Exon","Downstream <3kb","Distal Intergenic","5' UTR","3' UTR"];
const featureColors = ["#F06CA8","#9B87C0","#00B0EC","#00B38F","#00B33C","#CC9915","#FF756B"];
const groupLabels = ["3 weeks CS","10 weeks CS","post 10 weeks CS"];
const dmrPromoter = [.167,.294,.403], dmrIntron = [.249,.353,.193], dmrExon = [.334,.118,.189], dmrDownstream = [0,0,.006], dmrDistal = [.25,.175,.152], dmr5utr = [0,.06,.004], dmr3utr = [0,0,.053];
const dhPromoter = [.297,.336,.469], dhIntron = [.163,.166,.138], dhExon = [.172,.16,.174], dhDownstream = [.009,.008,.005], dhDistal = [.295,.279,.145], dh5utr = [.015,.013,.017], dh3utr = [.049,.038,.052];

// ---------- Panel D ----------
const pathways = ["Wnt signaling pathway","Type II diabetes mellitus","Signaling pathways regulating pluripotency of stem cells","Salivary secretion","Rap1 signaling pathway","PI3K-Akt signaling pathway","Pancreatic secretion","Oxytocin signaling pathway","Nicotine addiction","Morphine addiction","MAPK signaling pathway","Long-term potentiation","Inflammatory mediator regulation of TRP channels","Hypertrophic cardiomyopathy","Hippo signaling pathway","GnRH secretion","Glutamatergic synapse","GABAergic synapse","Focal adhesion","EGFR tyrosine kinase inhibitor resistance","ECM-receptor interaction","Dilated cardiomyopathy","Circadian entrainment","Cholinergic synapse","Central carbon metabolism in cancer","Cell adhesion molecules","cAMP signaling pathway","Calcium signaling pathway","Breast cancer","Axon guidance","Arrhythmogenic right ventricular cardiomyopathy","Amphetamine addiction","Aldosterone and secretion","Adrenergic signaling in cardiomyocytes"];
const n = null;
const col3w = [n,n,n,n,2.42,2.42,n,n,n,n,2.02,n,n,n,3.25,n,3.25,n,2.08,n,3.25,n,n,n,2.04,n,n,2.04,n,4.45,n,2.04,n,n];
const col10w = [n,2.15,2.15,2.65,2.95,n,2.08,2.95,2.3,4.1,4.3,2.3,2.65,2.65,2.85,2.85,6.15,3.55,n,2.3,n,3.5,3.55,2.12,n,2.15,2.15,6.4,n,2.85,2.75,n,2.3,2.65];
const colPost = [4.15,n,3.05,n,n,n,n,n,n,n,2.7,n,n,n,n,n,3.05,n,n,n,n,n,n,n,n,n,n,2.7,2.85,n,3.05,n,n,n];
const heatLabels = ["3w CS","10w CS","post 10w CS"];
const scaleValues = [2.02,2.4,3,4,5,6,6.43];
const scaleHex = ["#00FFD4","#1EF0CC","#84D2BE","#B5AEB6","#DA72A8","#EE3C9B","#F41F97"];
const scaleTicks = [3,4,5,6];

// ---------- helpers ----------
const rad = (d: number) => (d * Math.PI) / 180;
const hexRgb = (h: string) => [1, 3, 5].map((i) => parseInt(h.slice(i, i + 2), 16));
function heatColor(v: number) {
  let i = 0;
  while (i < scaleValues.length - 2 && v > scaleValues[i + 1]) i++;
  const t = Math.min(1, Math.max(0, (v - scaleValues[i]) / (scaleValues[i + 1] - scaleValues[i])));
  const a = hexRgb(scaleHex[i]), b = hexRgb(scaleHex[i + 1]);
  return `rgb(${a.map((c, k) => Math.round(c + (b[k] - c) * t)).join(",")})`;
}
const expand = (rows: number[][]) => rows.flatMap(([a, ...vs]) => vs.map((v) => [a, v]));
function toXY(track: number, pts: number[][]) {
  const r0 = trackInner[track], r1 = trackOuter[track];
  return pts.map(([a, p]) => {
    const r = r0 + ((r1 - r0) * p) / 100;
    return { x: r * Math.sin(rad(a)), y: r * Math.cos(rad(a)) };
  });
}
function dot(halo: string, core: string, radius: number) {
  const c = document.createElement("canvas");
  c.width = c.height = radius * 2 + 2;
  const g = c.getContext("2d")!;
  g.fillStyle = halo;
  g.beginPath(); g.arc(radius + 1, radius + 1, radius, 0, 7); g.fill();
  g.fillStyle = core;
  g.beginPath(); g.arc(radius + 1, radius + 1, 1.5, 0, 7); g.fill();
  return c;
}
const RED = ["rgba(255,32,44,0.62)", "#E8101C", "#FF1A1F"];
const ORANGE = ["rgba(255,155,10,0.62)", "#F28C00", "#FF9A00"];
const BLUE = ["rgba(36,104,184,0.62)", "#174F9A", "#1A62B0"];

function arcSeg(ctx: any, cx: number, cy: number, r: number, a0: number, a1: number) {
  ctx.arc(cx, cy, r, rad(a0 - 90), rad(a1 - 90));
}
function text(ctx: any, s: string, x: number, y: number, font: string, align = "left", base = "alphabetic", rot = 0, color = "#000") {
  ctx.save();
  ctx.font = font; ctx.fillStyle = color; ctx.textAlign = align; ctx.textBaseline = base;
  ctx.translate(x, y); ctx.rotate(rot); ctx.fillText(s, 0, 0);
  ctx.restore();
}
function arcText(ctx: any, s: string, cx: number, cy: number, r: number, a0: number, a1: number, font: string) {
  ctx.save(); ctx.font = font; ctx.fillStyle = "#000"; ctx.textAlign = "center"; ctx.textBaseline = "alphabetic";
  const widths = [...s].map((c) => (c === " " ? ctx.measureText("n").width * 0.6 : ctx.measureText(c).width));
  const total = widths.reduce((a, b) => a + b, 0);
  let acc = 0;
  [...s].forEach((c, i) => {
    const a = a0 + ((a1 - a0) * (acc + widths[i] / 2)) / total;
    acc += widths[i];
    ctx.save();
    ctx.translate(cx + r * Math.sin(rad(a)), cy - r * Math.cos(rad(a)));
    ctx.rotate(rad(a));
    ctx.fillText(c, 0, 0);
    ctx.restore();
  });
  ctx.restore();
}

function circosPlugin(pinkWidth: number, extra: (ctx: any, cx: number, cy: number) => void) {
  return {
    id: "circos",
    beforeDatasetsDraw(chart: any) {
      const ctx = chart.ctx;
      const cx = chart.scales.x.getPixelForValue(0), cy = chart.scales.y.getPixelForValue(0);
      ctx.save();
      // ideogram
      chromNames.forEach((_, i) => {
        ctx.beginPath(); ctx.strokeStyle = "#E4E4E2"; ctx.lineWidth = 24;
        arcSeg(ctx, cx, cy, 642, chromStart[i], chromEnd[i]); ctx.stroke();
      });
      ideogramBands.forEach(([c, w]) => {
        ctx.beginPath(); ctx.strokeStyle = "#5A5C5A"; ctx.lineWidth = 24;
        arcSeg(ctx, cx, cy, 642, c - w / 2, c + w / 2); ctx.stroke();
      });
      // faint outer-track guides
      [574, 510, 450].forEach((r) => chromNames.forEach((_, i) => {
        ctx.beginPath(); ctx.strokeStyle = "#E8E8E8"; ctx.lineWidth = 2;
        arcSeg(ctx, cx, cy, r, chromStart[i], chromEnd[i]); ctx.stroke();
      }));
      // gray sectors
      for (let t = 3; t < 9; t++) {
        chromNames.forEach((_, i) => {
          const pad = sectorPad[t];
          ctx.beginPath();
          arcSeg(ctx, cx, cy, trackOuter[t], chromStart[i] + pad, chromEnd[i] - pad);
          ctx.arc(cx, cy, trackInner[t], rad(chromEnd[i] - pad - 90), rad(chromStart[i] + pad - 90), true);
          ctx.closePath();
          ctx.fillStyle = "#E8E8E8"; ctx.fill();
          ctx.strokeStyle = "#A8DCE8"; ctx.lineWidth = 1.6; ctx.stroke();
        });
      }
      // rings
      [[629, "#F8359A", pinkWidth], [444, "#47BD2F", 8], [251, "#00C4CC", 8.5]].forEach(([r, c, w]: any) => {
        ctx.beginPath(); ctx.strokeStyle = c; ctx.lineWidth = w; ctx.arc(cx, cy, r, 0, Math.PI * 2); ctx.stroke();
      });
      // small y axes of every track
      const ax = cx - 3;
      axisInner.forEach((r0, t) => {
        const r1 = axisOuter[t], mid = (r0 + r1) / 2;
        ctx.strokeStyle = "#2A4FA0"; ctx.lineWidth = 1.4;
        ctx.beginPath(); ctx.moveTo(ax, cy - r1); ctx.lineTo(ax, cy - r0); ctx.stroke();
        [r0, mid, r1].forEach((r, k) => {
          ctx.beginPath(); ctx.moveTo(ax - 4, cy - r); ctx.lineTo(ax, cy - r); ctx.stroke();
          text(ctx, axisLabels[t % 3][k], ax - 5, cy - r, `8px "${FONT}"`, "right", "middle", 0, "#2A4FA0");
        });
      });
      // chromosome names
      chromNames.forEach((nm, i) => {
        const m = (chromStart[i] + chromEnd[i]) / 2;
        const rot = m < 180 ? m - 90 : m + 90;
        text(ctx, nm, cx + 684 * Math.sin(rad(m)), cy - 684 * Math.cos(rad(m)), `40px "${FONT}"`, "center", "middle", rad(rot));
      });
      extra(ctx, cx, cy);
      ctx.restore();
    },
  };
}

function circosDatasets(sets: [number, number[][], string[]][], radius: number) {
  return sets.map(([t, pts, c]) => ({
    data: toXY(t, pts),
    pointStyle: dot(c[0], c[1], radius) as any,
    pointRadius: radius,
    showLine: false,
  }));
}
const hiddenScale = (min: number, max: number) => ({ type: "linear", display: false, min, max });

function makeA(cv: HTMLCanvasElement) {
  return new Chart(cv, {
    type: "scatter",
    data: {
      datasets: circosDatasets([
        [0, dmrT1, RED], [1, dmrT2, ORANGE], [3, dmrT4, RED], [4, dmrT5, ORANGE], [5, dmrT6, BLUE],
        [6, dmrT7, RED], [7, dmrT8, ORANGE], [8, dmrT9, BLUE],
      ], 5) as any,
    },
    options: {
      animation: false, responsive: false, devicePixelRatio: 1,
      plugins: { legend: { display: false }, tooltip: { enabled: false } },
      scales: { x: hiddenScale(-739, 761), y: hiddenScale(-790, 770) } as any,
      layout: { padding: 0 },
    },
    plugins: [circosPlugin(8, (ctx) => {
      text(ctx, "A", 40, 117, `bold 82px "${FONT}"`);
      text(ctx, "DMR", 124, 117, `86px "${FONT}"`);
    })],
  });
}

const legendTexts = ["methylation/hydroxymethylation changes > 5%", "-5% < methylation/hydroxymethylation changes < 5%", "methylation/hydroxymethylation changes < -5%"];
function makeB(cv: HTMLCanvasElement) {
  return new Chart(cv, {
    type: "scatter",
    data: {
      datasets: circosDatasets([
        [0, dhT1, RED], [1, dhT2, ORANGE], [2, dhT3, BLUE], [3, dhT4, RED], [4, expand(dhT5rows), ORANGE], [5, dhT6, BLUE],
        [6, dhT7, RED], [7, expand(dhT8rows), ORANGE], [8, dhT9, BLUE],
      ], 5) as any,
    },
    options: {
      animation: false, responsive: false, devicePixelRatio: 1,
      plugins: { legend: { display: false }, tooltip: { enabled: false } },
      scales: { x: hiddenScale(-735, 1475), y: hiddenScale(-790, 770) } as any,
      layout: { padding: 0 },
    },
    plugins: [circosPlugin(6, (ctx) => {
      text(ctx, "B", 33, 117, `bold 82px "${FONT}"`);
      text(ctx, "DhMR", 116, 117, `87px "${FONT}"`);
      // ring key
      const kx = 3421.6 - 1500, ky = 908;
      [[260, "#FB3A9B"], [181, "#47BD2F"], [88, "#00C4CC"]].forEach(([r, c]: any) => {
        ctx.beginPath(); ctx.strokeStyle = c; ctx.lineWidth = 14; ctx.arc(kx, ky, r, 0, Math.PI * 2); ctx.stroke();
      });
      arcText(ctx, "post 10w CS", kx, ky, 270, -30, 30, `54px "${FONT}"`);
      arcText(ctx, "10w CS", kx, ky, 191, -27, 27, `54px "${FONT}"`);
      arcText(ctx, "3w CS", kx, ky, 98, -48, 43, `54px "${FONT}"`);
      // colour key
      [RED, ORANGE, BLUE].forEach((c, i) => {
        const y = 1318 + i * 60, x = 1294;
        ctx.beginPath(); ctx.fillStyle = c[0]; ctx.arc(x, y, 14, 0, 7); ctx.fill();
        ctx.beginPath(); ctx.fillStyle = c[2]; ctx.arc(x, y, 11, 0, 7); ctx.fill();
        ctx.save();
        ctx.translate(1345, y); ctx.scale(0.805, 1);
        ctx.font = `44px "${FONT}"`; ctx.fillStyle = "#000"; ctx.textBaseline = "middle";
        ctx.fillText(legendTexts[i], 0, 0);
        ctx.restore();
      });
    })],
  });
}

function stackedDatasets(vals: number[][]) {
  return featureNames.map((name, i) => ({
    label: name, data: vals[i], backgroundColor: featureColors[i], borderColor: "#6E6E6E", borderWidth: 3,
    barPercentage: 0.785, categoryPercentage: 1,
  }));
}
function facetOptions(leftW: number, rightPad: number, showY: boolean) {
  return {
    animation: false, responsive: false, devicePixelRatio: 1,
    layout: { padding: { top: 156, right: rightPad, left: 0, bottom: 0 } },
    plugins: { legend: { display: false }, tooltip: { enabled: false } },
    scales: {
      x: {
        stacked: true, grid: { display: false, drawTicks: false }, border: { display: false },
        ticks: { font: { family: FONT, size: 50 }, color: "#000", maxRotation: 45, minRotation: 45, autoSkip: false, padding: 4, labelOffset: 14 },
        afterFit(s: any) { s.height = 469; s.paddingLeft = 0; s.paddingRight = 0; },
      },
      y: {
        stacked: true, min: 0, max: 1, display: true, grid: { display: false, drawTicks: false }, border: { display: false },
        ticks: { display: showY, stepSize: 0.25, padding: 15, color: "#000", font: { family: FONT, size: 47 }, callback: (v: any) => Number(v).toFixed(2) },
        title: showY ? { display: true, text: "Genomic feature proportion", color: "#000", font: { family: FONT, size: 65.5, weight: "bold" }, padding: { top: 33, bottom: 0 } } : { display: false },
        afterFit(s: any) { s.width = leftW; },
      },
    },
  } as any;
}
function strip(ctx: any, x0: number, x1: number, y0: number, y1: number, label: string) {
  ctx.save();
  ctx.fillStyle = "#D9D9D9"; ctx.strokeStyle = "#111"; ctx.lineWidth = 4;
  ctx.fillRect(x0, y0, x1 - x0, y1 - y0); ctx.strokeRect(x0, y0, x1 - x0, y1 - y0);
  text(ctx, label, (x0 + x1) / 2, (y0 + y1) / 2 + 3, `bold 50px "${FONT}"`, "center", "middle", 0, "#111");
  ctx.restore();
}
const C_TOP = 1560, C2_LEFT = 400;
function makeC1(cv: HTMLCanvasElement) {
  return new Chart(cv, {
    type: "bar",
    data: { labels: groupLabels, datasets: stackedDatasets([dmrPromoter, dmrIntron, dmrExon, dmrDownstream, dmrDistal, dmr5utr, dmr3utr]) },
    options: facetOptions(277, 444, true),
    plugins: [{ id: "c1", afterDraw(chart: any) {
      const ctx = chart.ctx;
      text(ctx, "C", 38, 1650 - C_TOP, `bold 80px "${FONT}"`);
      strip(ctx, 287, 548, 1622 - C_TOP, 1707 - C_TOP, "DMR");
      text(ctx, "Treatment Group", 585, 3791 - C_TOP, `bold 65.5px "${FONT}"`, "center", "middle");
    } }],
  });
}
function makeC2(cv: HTMLCanvasElement) {
  return new Chart(cv, {
    type: "bar",
    data: { labels: groupLabels, datasets: stackedDatasets([dhPromoter, dhIntron, dhExon, dhDownstream, dhDistal, dh5utr, dh3utr]) },
    options: facetOptions(608.5 - C2_LEFT, C2_LEFT + 1160 - 889, false),
    plugins: [{ id: "c2", afterDraw(chart: any) {
      const ctx = chart.ctx;
      strip(ctx, 619 - C2_LEFT, 880 - C2_LEFT, 1622 - C_TOP, 1707 - C_TOP, "DhMR");
      // legend, top row is the last series
      featureNames.slice().reverse().forEach((nm, i) => {
        const y = 2268.5 + i * 92.4 - C_TOP, k = featureNames.length - 1 - i;
        ctx.fillStyle = featureColors[k]; ctx.strokeStyle = "#6E6E6E"; ctx.lineWidth = 3;
        ctx.fillRect(938 - C2_LEFT, y - 36, 71, 71); ctx.strokeRect(938 - C2_LEFT, y - 36, 71, 71);
        text(ctx, nm, 1023 - C2_LEFT, y + 3, `57.5px "${FONT}"`, "left", "middle");
      });
    } }],
  });
}

const D_LEFT = 1550, D_TOP = 1500;
function makeD(cv: HTMLCanvasElement) {
  const cols = [col3w, col10w, colPost];
  return new Chart(cv, {
    type: "bar",
    data: {
      labels: pathways,
      datasets: cols.map((col, c) => ({
        label: heatLabels[c],
        data: col.map((v) => (v === null ? null : [c, c + 1])) as any,
        backgroundColor: col.map((v) => (v === null ? "transparent" : heatColor(v))),
        borderWidth: 0, barPercentage: 1, categoryPercentage: 1, grouped: false,
      })),
    },
    options: {
      indexAxis: "y", animation: false, responsive: false, devicePixelRatio: 1,
      layout: { padding: { top: 1604 - D_TOP, right: 3710 - 3496, left: 0, bottom: 0 } },
      plugins: { legend: { display: false }, tooltip: { enabled: false } },
      scales: {
        x: {
          type: "linear", min: 0, max: 3, grid: { display: false, drawTicks: false }, border: { display: false },
          afterBuildTicks(s: any) { s.ticks = [{ value: 0.5 }, { value: 1.5 }, { value: 2.5 }]; },
          ticks: { font: { family: FONT, size: 50 }, color: "#000", maxRotation: 45, minRotation: 45, autoSkip: false, padding: 14, labelOffset: 36, callback: (_: any, i: number) => heatLabels[i] },
          afterFit(s: any) { s.height = 3850 - 3568; s.paddingLeft = 0; s.paddingRight = 0; },
        },
        y: {
          type: "category", grid: { display: false, drawTicks: false }, border: { display: false },
          ticks: { autoSkip: false, padding: 31, color: "#000", font: { family: FONT, size: 50.6 } },
          title: { display: true, text: "KEGG pathway", color: "#000", font: { family: FONT, size: 66, weight: "bold" }, padding: { top: 22, bottom: 0 } },
          afterFit(s: any) { s.width = 2872 - D_LEFT; },
        },
      },
    } as any,
    plugins: [{ id: "d", afterDraw(chart: any) {
      const ctx = chart.ctx;
      text(ctx, "D", 1584 - D_LEFT, 1650 - D_TOP, `bold 80px "${FONT}"`);
      const x0 = 3533 - D_LEFT, x1 = 3585 - D_LEFT, y0 = 2519 - D_TOP, y1 = 2803 - D_TOP;
      const vTop = scaleValues[scaleValues.length - 1], vBot = scaleValues[0];
      const g = ctx.createLinearGradient(0, y0, 0, y1);
      scaleValues.forEach((v, i) => g.addColorStop((vTop - v) / (vTop - vBot), scaleHex[i]));
      ctx.fillStyle = g; ctx.fillRect(x0, y0, x1 - x0, y1 - y0);
      scaleTicks.forEach((v) => {
        const y = y0 + ((vTop - v) / (vTop - vBot)) * (y1 - y0);
        ctx.fillStyle = "#fff";
        ctx.fillRect(x0, y - 1.5, 12, 3); ctx.fillRect(x1 - 12, y - 1.5, 12, 3);
        text(ctx, String(v), 3595 - D_LEFT, y + 2, `42px "${FONT}"`, "left", "middle");
      });
      text(ctx, "-log(p-value)", 3652 - D_LEFT, (y0 + y1) / 2, `51px "${FONT}"`, "center", "middle", Math.PI / 2);
    } }],
  });
}

function Panel({ make, left, top, width, height }: any) {
  const ref = useRef<HTMLCanvasElement>(null);
  useEffect(() => {
    const chart = make(ref.current!);
    return () => chart.destroy();
  }, [make]);
  return <canvas ref={ref} width={width} height={height} style={{ position: "absolute", left, top, width, height, display: "block" }} />;
}

export default function App() {
  return (
    <div style={{ position: "absolute", left: 0, top: 0, width: 3710, height: 3850, background: "#fff", overflow: "hidden" }}>
      <Panel make={makeA} left={0} top={0} width={1500} height={1560} />
      <Panel make={makeB} left={1500} top={0} width={2210} height={1560} />
      <Panel make={makeC1} left={0} top={C_TOP} width={1000} height={3850 - C_TOP} />
      <Panel make={makeC2} left={C2_LEFT} top={C_TOP} width={1160} height={3850 - C_TOP} />
      <Panel make={makeD} left={D_LEFT} top={D_TOP} width={2160} height={3850 - D_TOP} />
    </div>
  );
}
